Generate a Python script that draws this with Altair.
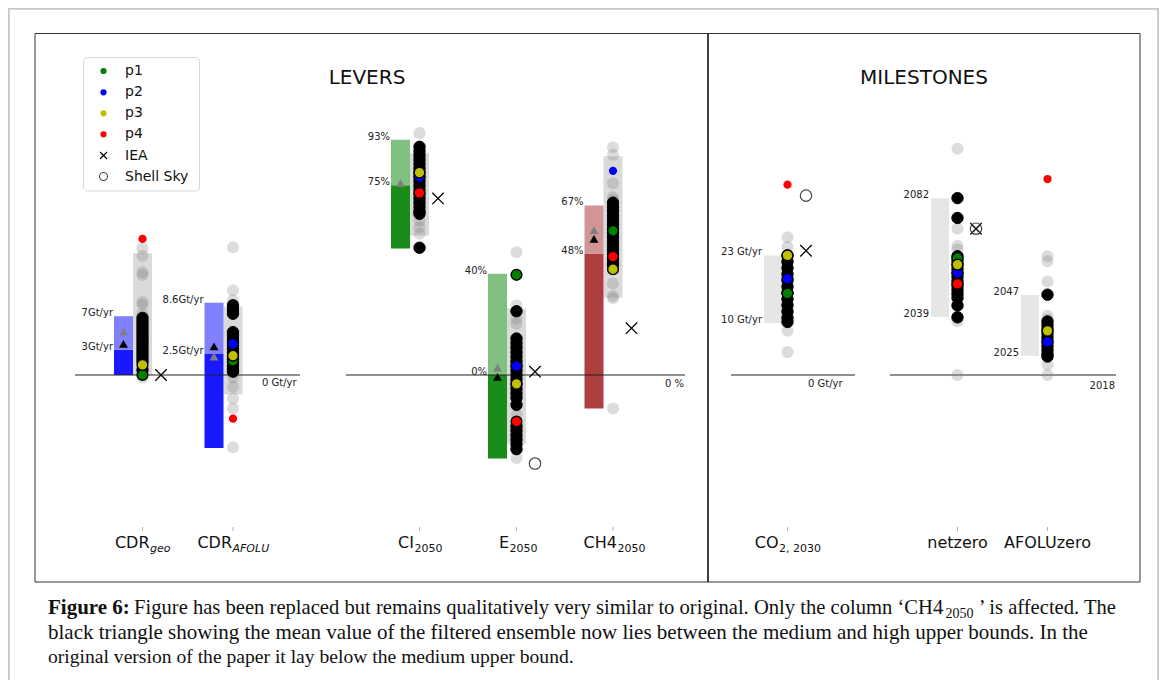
import altair as alt
import pandas as pd

# ======================= DATA =======================
COLUMNS = ["CDRgeo", "CDRafolu", "CI2050", "E2050", "CH42050", "CO22030", "netzero", "AFOLUzero"]
UNIT_ZERO = [0, 0, 0, 0, 0, 0, 2018, 2018]

# lever bars (low / medium / high bounds)
LEVERS = ["CDRgeo", "CDRafolu", "CI2050", "E2050", "CH42050"]
BAR_LOW = [0, -8.7, 50, -33, -13.2]
BAR_MID = [3, 2.5, 75, 0, 48]
BAR_HIGH = [7, 8.6, 93, 40, 67]
MID_LABELS = ["3Gt/yr", "2.5Gt/yr", "75%", "0%", "48%"]
HIGH_LABELS = ["7Gt/yr", "8.6Gt/yr", "93%", "40%", "67%"]
BAR_FAMILY = ["blue", "blue", "green", "green", "brown"]
RANGE_LOW = [0, -2.3, 55.1, -27.2, 30.5]
RANGE_HIGH = [14.5, 8.15, 87.7, 26.3, 86.5]
MEAN_ALL = [5.2, 2.2, 75.8, 2.9, 57.3]
MEAN_FILTERED = [3.7, 3.4, None, -0.7, 53.8]

# milestone bounds
MILESTONES = ["CO22030", "netzero", "AFOLUzero"]
MS_LOW = [10, 2039, 2025]
MS_HIGH = [23, 2082, 2047]
MS_LOW_LABELS = ["10 Gt/yr", "2039", "2025"]
MS_HIGH_LABELS = ["23 Gt/yr", "2082", "2047"]

IEA = {"CDRgeo": 0, "CI2050": 69.8, "E2050": 1.3, "CH42050": 18.5, "CO22030": 23.9, "netzero": 2071}
SHELL_SKY = {"E2050": -35, "CO22030": 34.5, "netzero": 2071}

ENSEMBLE_ALL = {
    "CDRgeo": [15.1, 14.2, 12.2, 11.9, 8.7, 8.4, 7.3, 0.9, -0.3],
    "CDRafolu": [15.2, 10.1, 8.9, -0.3, -1.4, -2.8, -4.0, -8.6],
    "CI2050": [95.6, 88.3, 61.0, 58.4, 55.8],
    "E2050": [48.5, 27.5, 22.3, 20.3, -15.7, -32.8],
    "CH42050": [90.0, 87.0, 75.8, 70.2, 69.2, 36.2, 31.2, 30.3, -13.2],
    "CO22030": [26.5, 24.6, 8.5, 4.4],
    "netzero": [2100, 2071, 2064.8, 2063.5, 2037.5, 2018],
    "AFOLUzero": [2061, 2059.2, 2051.9, 2039.5, 2038.2, 2021.7, 2018],
}
ENSEMBLE_FILTERED = {
    "CDRgeo": [6.8, 6.4, 6.0, 5.6, 5.2, 4.8, 4.4, 4.0, 3.6, 3.2, 2.8, 2.4, 2.0, 1.6, 0.6],
    "CDRafolu": [8.3, 7.8, 7.3, 5.1, 4.7, 4.3, 3.9, 3.5, 3.1, 2.7, 2.3, 1.9, 1.5, 1.1, 0.7, 0.4],
    "CI2050": [90.2, 88.5, 86.8, 85.1, 83.4, 81.7, 80.0, 78.3, 76.6, 74.9, 73.2, 71.5, 69.8,
               68.1, 66.4, 64.7, 63.7, 50.3],
    "E2050": [25.2, 14.4, 12.6, 10.8, 9.0, 7.2, 5.4, 3.6, 1.8, 0.0, -1.8, -3.6, -5.4, -7.2,
              -9.0, -11.8, -20.3, -22.0, -23.8, -25.6, -27.4, -29.3],
    "CH42050": [68.1, 66.4, 64.7, 63.0, 61.3, 59.6, 57.9, 56.2, 54.5, 52.8, 51.1, 49.4, 47.7,
                46.0, 44.3, 43.5],
    "CO22030": [23.0, 21.8, 20.6, 19.4, 18.2, 17.0, 15.8, 14.6, 13.4, 12.2, 11.0, 10.2],
    "netzero": [2082.1, 2074.9, 2061, 2059.5, 2058, 2056.5, 2055, 2053.5, 2052, 2050.5, 2049,
                2047.5, 2046, 2043.2, 2038.9],
    "AFOLUzero": [2047.1, 2037.4, 2036, 2034.5, 2033, 2031.5, 2030, 2028.5, 2027, 2025.5, 2024.7],
}
# pathways: value per column (None = not shown), and whether inside the filtered set
P_NAMES = ["p1", "p2", "p3", "p4"]
P_COLORS = ["#008000", "#0000ff", "#bfbf00", "#ff0000"]
P1 = [0.0, 1.7, None, 39.6, 57.0, 15.7, 2060.4, None]
P2 = [None, 3.7, 78.3, 3.5, 80.7, 18.5, 2055, 2030]
P3 = [1.2, 2.3, 80.0, -3.5, 41.8, 23.0, 2058, 2034]
P4 = [16.2, -5.2, 72.0, -18.4, 46.8, 36.6, 2051, 2089]
P1_IN = [True, True, True, True, True, True, True, True]
P2_IN = [True, True, True, True, False, True, True, True]
P3_IN = [True, True, True, True, True, True, True, True]
P4_IN = [False, False, True, True, True, False, True, False]

XLAB_MAIN = ["CDR", "CDR", "CI", "E", "CH4", "CO", "netzero", "AFOLUzero"]
XLAB_SUB = ["geo", "AFOLU", "2050", "2050", "2050", "2, 2030", "", ""]
XLAB_SUB_ITALIC = [True, True, False, False, False, False, False, False]
ZERO_LABELS = ["0 Gt/yr", "0 %", "0 Gt/yr", "2018"]
LEGEND_LABELS = ["p1", "p2", "p3", "p4", "IEA", "Shell Sky"]
TITLES = ["LEVERS", "MILESTONES"]

CAP_BOLD = "Figure 6:"
CAP_L1A = "Figure has been replaced but remains qualitatively very similar to original. Only the column \u2018CH4"
CAP_L1SUB = "2050"
CAP_L1B = "\u2019 is affected. The"
CAP_L2 = ("black triangle showing the mean value of the filtered ensemble now lies between the "
          "medium and high upper bounds. In the")
CAP_L3 = "original version of the paper it lay below the medium upper bound."

# ======================= LAYOUT =======================
W, H = 1151, 672
ORIGIN = 8
COL_X = [142.5, 233.0, 419.5, 516.5, 613.0, 787.5, 957.5, 1047.5]
PX_PER_UNIT = [8.4, 8.4, 2.53, 2.53, 2.53, 5.2, 2.76, 2.76]
BASE_Y = 375
HALF = 9.5          # half width of the grey range box of levers
BAR_W = 19          # width of coloured lever bar
MS_OFF = [5.5, 8.5, 8.5]  # gap between milestone box and dots
MS_W = 18
MARK_OFF = 18.5     # IEA / Shell Sky offset to the right
XLAB_ANCHOR = [149.5, 232.0, 414.0, 509.0, 617.0, 778.5, 957.5, 1047.5]

FAMILY_DARK = {"blue": "#1919ff", "green": "#198c19", "brown": "#ae3f3f"}
FAMILY_LIGHT = {"blue": "#8080ff", "green": "#80c080", "brown": "#d29595"}

IDX = {c: i for i, c in enumerate(COLUMNS)}


def vy(col, v):
    i = IDX[col]
    return BASE_Y - (v - UNIT_ZERO[i]) * PX_PER_UNIT[i]


XS = alt.Scale(domain=[ORIGIN, ORIGIN + W], nice=False, zero=False)
YS = alt.Scale(domain=[ORIGIN, ORIGIN + H], nice=False, zero=False, reverse=True)
X = alt.X("x:Q", scale=XS, axis=None)
Y = alt.Y("y:Q", scale=YS, axis=None)


def rect_layer(df, **mark):
    enc = dict(x=X, x2="x2:Q", y=Y, y2="y2:Q")
    if "c" in df.columns:
        enc["fill"] = alt.Fill("c:N", scale=None)
    return alt.Chart(df).mark_rect(**mark).encode(**enc)


def rule_layer(df, **mark):
    return alt.Chart(df).mark_rule(**mark).encode(x=X, x2="x2:Q", y=Y, y2="y2:Q")


def text_layer(df, **mark):
    return alt.Chart(df).mark_text(**mark).encode(x=X, y=Y, text="t:N")


layers = []

# ---- frames ----
layers.append(rect_layer(pd.DataFrame({"x": [8.8], "x2": [1158.2], "y": [8.8], "y2": [720]}),
                         fillOpacity=0, stroke="#c8c8c8", strokeWidth=2))
layers.append(rect_layer(pd.DataFrame({"x": [35], "x2": [1140], "y": [33.5], "y2": [582]}),
                         fillOpacity=0, stroke="#333333", strokeWidth=1))
layers.append(rule_layer(pd.DataFrame({"x": [708], "x2": [708], "y": [33.5], "y2": [582]}),
                         color="#111111", strokeWidth=1.6))

# ---- lever bars and ranges ----
bars = []
grey_boxes = []
for i, col in enumerate(LEVERS):
    cx = COL_X[IDX[col]]
    fam = BAR_FAMILY[i]
    bars.append({"x": cx - HALF - BAR_W, "x2": cx - HALF, "y": vy(col, BAR_LOW[i]),
                 "y2": vy(col, BAR_MID[i]), "c": FAMILY_DARK[fam]})
    bars.append({"x": cx - HALF - BAR_W, "x2": cx - HALF, "y": vy(col, BAR_MID[i]),
                 "y2": vy(col, BAR_HIGH[i]), "c": FAMILY_LIGHT[fam]})
    grey_boxes.append({"x": cx - HALF, "x2": cx + HALF, "y": vy(col, RANGE_LOW[i]),
                       "y2": vy(col, RANGE_HIGH[i]), "c": "#dadada"})
for i, col in enumerate(MILESTONES):
    cx = COL_X[IDX[col]]
    grey_boxes.append({"x": cx - MS_OFF[i] - MS_W, "x2": cx - MS_OFF[i], "y": vy(col, MS_LOW[i]),
                       "y2": vy(col, MS_HIGH[i]), "c": "#e6e6e6"})
layers.append(rect_layer(pd.DataFrame(grey_boxes)))
layers.append(rect_layer(pd.DataFrame(bars)))

# ---- baselines ----
base_df = pd.DataFrame({"x": [75, 346, 731, 890], "x2": [300, 685, 855, 1116],
                        "y": [BASE_Y] * 4, "y2": [BASE_Y] * 4})
layers.append(rule_layer(base_df, color="#222222", strokeWidth=1.2))
zl_left = pd.DataFrame({"x": [262, 665, 808], "y": [383, 384, 384], "t": ZERO_LABELS[:3]})
layers.append(text_layer(zl_left, align="left", baseline="middle", font="DejaVu Sans",
                         fontSize=10, color="#222222"))
zl_right = pd.DataFrame({"x": [1115], "y": [386], "t": ZERO_LABELS[3:]})
layers.append(text_layer(zl_right, align="right", baseline="middle", font="DejaVu Sans",
                         fontSize=10, color="#222222"))

# ---- bound labels ----
bl = []
for i, col in enumerate(LEVERS):
    cx = COL_X[IDX[col]]
    bl.append({"x": cx - HALF - BAR_W - 1, "y": vy(col, BAR_HIGH[i]), "t": HIGH_LABELS[i]})
    bl.append({"x": cx - HALF - BAR_W - 1, "y": vy(col, BAR_MID[i]), "t": MID_LABELS[i]})
for i, col in enumerate(MILESTONES):
    cx = COL_X[IDX[col]]
    bl.append({"x": cx - MS_OFF[i] - MS_W - 2, "y": vy(col, MS_HIGH[i]), "t": MS_HIGH_LABELS[i]})
    bl.append({"x": cx - MS_OFF[i] - MS_W - 2, "y": vy(col, MS_LOW[i]), "t": MS_LOW_LABELS[i]})
layers.append(text_layer(pd.DataFrame(bl), align="right", baseline="alphabetic",
                         font="DejaVu Sans", fontSize=10, color="#222222"))

# ---- ensemble dots ----
grey_rows, black_rows = [], []
for col in COLUMNS:
    cx = COL_X[IDX[col]]
    for v in ENSEMBLE_ALL[col]:
        grey_rows.append({"x": cx, "y": vy(col, v)})
    for v in ENSEMBLE_FILTERED[col]:
        black_rows.append({"x": cx, "y": vy(col, v)})
layers.append(alt.Chart(pd.DataFrame(grey_rows)).mark_circle(
    color="#808080", opacity=0.28, size=145).encode(x=X, y=Y))
layers.append(alt.Chart(pd.DataFrame(black_rows)).mark_circle(
    color="black", opacity=1, size=130, stroke="black", strokeWidth=1).encode(x=X, y=Y))

edged, small = [], []
for name, color, vals, inside in zip(P_NAMES, P_COLORS, [P1, P2, P3, P4], [P1_IN, P2_IN, P3_IN, P4_IN]):
    for col, v, ins in zip(COLUMNS, vals, inside):
        if v is None:
            continue
        row = {"x": COL_X[IDX[col]], "y": vy(col, v), "c": color}
        (edged if ins else small).append(row)
layers.append(alt.Chart(pd.DataFrame(edged)).mark_circle(
    opacity=1, size=115, stroke="black", strokeWidth=1.4).encode(
    x=X, y=Y, fill=alt.Fill("c:N", scale=None)))
layers.append(alt.Chart(pd.DataFrame(small)).mark_circle(opacity=1, size=68).encode(
    x=X, y=Y, color=alt.Color("c:N", scale=None)))

# ---- mean triangles ----
tri = []
for i, col in enumerate(LEVERS):
    cx = COL_X[IDX[col]] - HALF - BAR_W / 2
    if MEAN_FILTERED[i] is not None:
        tri.append({"x": cx, "y": vy(col, MEAN_FILTERED[i]), "c": "black"})
    tri.append({"x": cx, "y": vy(col, MEAN_ALL[i]), "c": "#7f7f7f"})
layers.append(alt.Chart(pd.DataFrame(tri)).mark_point(
    shape="triangle-up", filled=True, opacity=1, size=80).encode(
    x=X, y=Y, color=alt.Color("c:N", scale=None)))

# ---- IEA and Shell Sky ----
XSHAPE = "M-1,-1L1,1M-1,1L1,-1"
iea_df = pd.DataFrame([{"x": COL_X[IDX[c]] + MARK_OFF, "y": vy(c, v)} for c, v in IEA.items()])
layers.append(alt.Chart(iea_df).mark_point(shape=XSHAPE, filled=False, size=130, color="black",
                                           strokeWidth=1.3, opacity=1).encode(x=X, y=Y))
shell_df = pd.DataFrame([{"x": COL_X[IDX[c]] + MARK_OFF, "y": vy(c, v)} for c, v in SHELL_SKY.items()])
layers.append(alt.Chart(shell_df).mark_point(shape="circle", filled=False, size=130, color="#444444",
                                             strokeWidth=1.2, opacity=1).encode(x=X, y=Y))

# ---- titles ----
layers.append(text_layer(pd.DataFrame({"x": [367, 924], "y": [78, 78], "t": TITLES}),
                         align="center", baseline="middle", font="DejaVu Sans", fontSize=20,
                         color="#111111"))

# ---- x tick marks and labels ----
tick_df = pd.DataFrame({"x": COL_X, "x2": COL_X, "y": [527] * 8, "y2": [531] * 8})
layers.append(rule_layer(tick_df, color="#b0b0b0", strokeWidth=1))
has_sub = [i for i in range(8) if XLAB_SUB[i]]
no_sub = [i for i in range(8) if not XLAB_SUB[i]]
layers.append(text_layer(pd.DataFrame({"x": [XLAB_ANCHOR[i] for i in has_sub], "y": [548] * len(has_sub),
                                       "t": [XLAB_MAIN[i] for i in has_sub]}),
                         align="right", baseline="alphabetic", font="DejaVu Sans", fontSize=16,
                         color="#111111"))
layers.append(text_layer(pd.DataFrame({"x": [XLAB_ANCHOR[i] for i in no_sub], "y": [548] * len(no_sub),
                                       "t": [XLAB_MAIN[i] for i in no_sub]}),
                         align="center", baseline="alphabetic", font="DejaVu Sans", fontSize=16,
                         color="#111111"))
for italic in (True, False):
    idx = [i for i in has_sub if XLAB_SUB_ITALIC[i] == italic]
    layers.append(text_layer(pd.DataFrame({"x": [XLAB_ANCHOR[i] + 0.5 for i in idx], "y": [552] * len(idx),
                                           "t": [XLAB_SUB[i] for i in idx]}),
                             align="left", baseline="alphabetic", font="DejaVu Sans", fontSize=11,
                             fontStyle="italic" if italic else "normal", color="#111111"))

# ---- legend ----
layers.append(rect_layer(pd.DataFrame({"x": [83.5], "x2": [199.5], "y": [57.5], "y2": [191]}),
                         fill="white", stroke="#d5d5d5", strokeWidth=1, cornerRadius=4))
LEG_Y = [71, 92.3, 113.3, 134.3, 155.5, 176.5]
layers.append(alt.Chart(pd.DataFrame({"x": [103.5] * 4, "y": LEG_Y[:4], "c": P_COLORS})).mark_circle(
    opacity=1, size=38).encode(x=X, y=Y, color=alt.Color("c:N", scale=None)))
layers.append(alt.Chart(pd.DataFrame({"x": [103.5], "y": [LEG_Y[4]]})).mark_point(
    shape=XSHAPE, filled=False, size=50, color="black", strokeWidth=1.2, opacity=1).encode(x=X, y=Y))
layers.append(alt.Chart(pd.DataFrame({"x": [103.5], "y": [LEG_Y[5]]})).mark_point(
    shape="circle", filled=False, size=64, color="#444444", strokeWidth=1.1, opacity=1).encode(x=X, y=Y))
layers.append(text_layer(pd.DataFrame({"x": [125] * 6, "y": LEG_Y, "t": LEGEND_LABELS}),
                         align="left", baseline="middle", font="DejaVu Sans", fontSize=14,
                         color="#111111"))

# ---- caption ----
CAP_FONT = "Liberation Serif"
layers.append(text_layer(pd.DataFrame({"x": [48], "y": [608], "t": [CAP_BOLD]}),
                         align="left", baseline="middle", font=CAP_FONT, fontSize=21,
                         fontWeight="bold", color="#111111"))
layers.append(text_layer(pd.DataFrame({"x": [134], "y": [608], "t": [CAP_L1A]}),
                         align="left", baseline="middle", font=CAP_FONT, fontSize=20.6,
                         color="#111111"))
layers.append(text_layer(pd.DataFrame({"x": [945.5], "y": [613.5], "t": [CAP_L1SUB]}),
                         align="left", baseline="middle", font=CAP_FONT, fontSize=14,
                         color="#111111"))
layers.append(text_layer(pd.DataFrame({"x": [1116], "y": [608], "t": [CAP_L1B]}),
                         align="right", baseline="middle", font=CAP_FONT, fontSize=20.6,
                         color="#111111"))
layers.append(text_layer(pd.DataFrame({"x": [48], "y": [632.5], "t": [CAP_L2]}),
                         align="left", baseline="middle", font=CAP_FONT, fontSize=21,
                         color="#111111"))
layers.append(text_layer(pd.DataFrame({"x": [48], "y": [656.5], "t": [CAP_L3]}),
                         align="left", baseline="middle", font=CAP_FONT, fontSize=19.6,
                         color="#111111"))

chart = alt.layer(*layers).properties(
    width=W, height=H, padding=0, autosize=alt.AutoSizeParams(type="none")
).configure_view(stroke=None)

chart.save("out.html", embed_options={"renderer": "svg", "actions": False})
